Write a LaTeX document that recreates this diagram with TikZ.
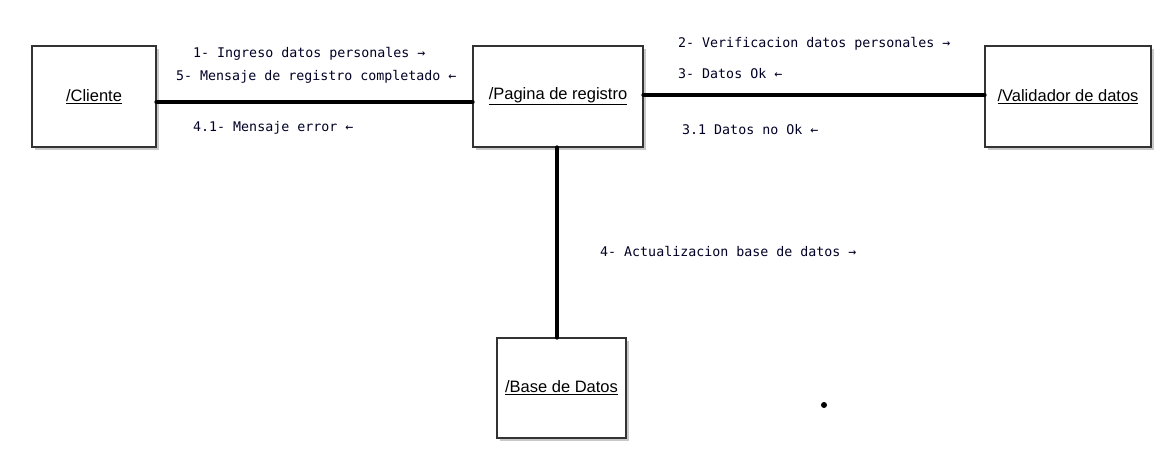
\documentclass[tikz,border=0pt]{standalone}
\usepackage{fontspec}
\setmainfont{Liberation Sans}
\newfontfamily\monof{DejaVu Sans Mono}
\usetikzlibrary{shadows}
\begin{document}
\begin{tikzpicture}[x=1pt,y=-1pt,
  obj/.style={draw=black!80, line width=1.1pt, fill=white, inner sep=0pt,
    drop shadow={shadow xshift=2.5pt, shadow yshift=-2.5pt, fill=black!35, opacity=0.6},
    font=\fontsize{16.5}{18}\selectfont},
  msg/.style={font=\monof\fontsize{13.3}{15}\selectfont, text=black!85!blue, inner sep=0pt, anchor=west},
  link/.style={line width=4.5pt, line cap=round}]
\useasboundingbox[fill=white] (0,0) rectangle (1176,474);
\node[obj, minimum width=124pt, minimum height=101pt] (cliente) at (94,96.5) {\underline{/Cliente}};
\node[obj, minimum width=170pt, minimum height=101pt] (pagina) at (558,96.5) {\underline{/Pagina de registro}};
\node[obj, minimum width=166pt, minimum height=101pt] (validador) at (1068,96.5) {\underline{/Validador de datos}};
\node[obj, minimum width=129pt, minimum height=100pt] (base) at (561.5,388) {\underline{/Base de Datos}};
\draw[link] ([yshift=-5.5pt]cliente.east) -- ([yshift=-5.5pt]pagina.west);
\draw[link] ([yshift=1.5pt]pagina.east) -- ([yshift=1.5pt]validador.west);
\draw[link] ([xshift=-1pt]pagina.south) -- ([xshift=-1pt]pagina.south |- base.north);
\node[msg] (m1) at (193,54) {1- Ingreso datos personales →};
\node[msg] (m5) at (176,77) {5- Mensaje de registro completado ←};
\node[msg] (m41) at (193,128) {4.1- Mensaje error ←};
\node[msg] (m2) at (678,44) {2- Verificacion datos personales →};
\node[msg] (m3) at (678,74) {3- Datos Ok ←};
\node[msg] (m31) at (682,130) {3.1 Datos no Ok ←};
\node[msg] (m4) at (600,252) {4- Actualizacion base de datos →};
\fill (824,405) circle (3pt);
\end{tikzpicture}
\end{document}
